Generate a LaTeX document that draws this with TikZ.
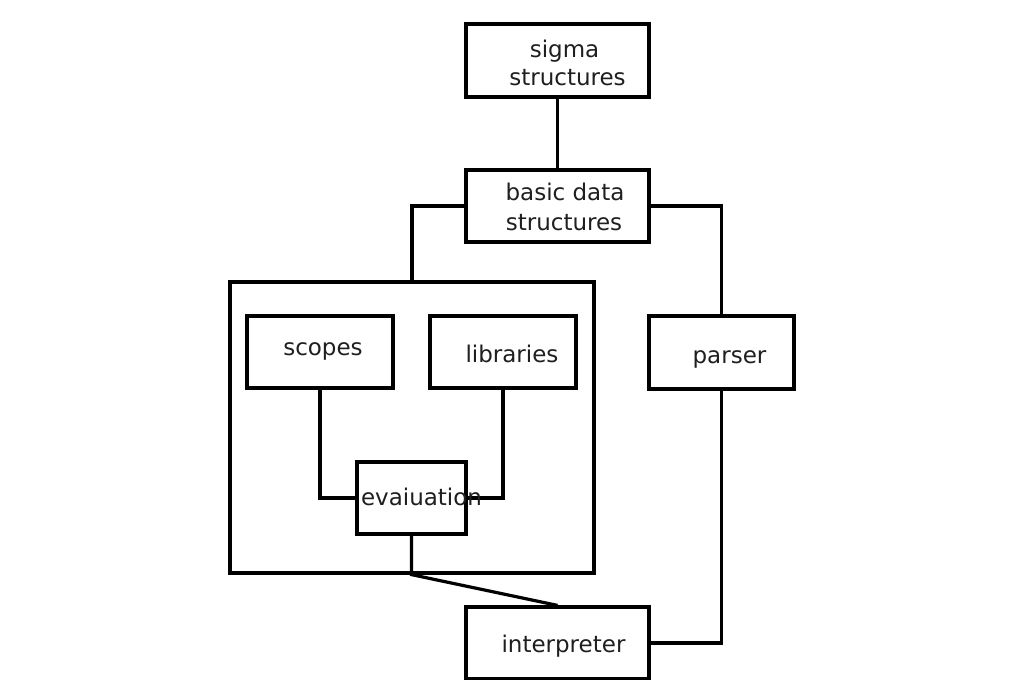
\documentclass[tikz,border=0pt]{standalone}
\usepackage{fontspec}
\setmainfont{DejaVu Sans}
\begin{document}
\begin{tikzpicture}[x=1pt,y=-1pt,
  box/.style={draw=black,line width=3.2pt,fill=white,inner sep=0pt,rectangle},
  conn/.style={draw=black,line width=3.2pt},
  lbl/.style={anchor=base,inner sep=0pt,text=black!88,font=\fontsize{23}{27}\selectfont}]
\useasboundingbox (0,0) rectangle (1020,680);
\fill[white] (0,0) rectangle (1020,680);
% containers and boxes
\node[box,minimum width=364pt,minimum height=291pt] (cont) at (412,427.5) {};
\node[box,minimum width=183pt,minimum height=73pt] (sigma) at (557.5,60.5) {};
\node[box,minimum width=183pt,minimum height=72pt] (basic) at (557.5,206) {};
\node[box,minimum width=146pt,minimum height=72pt] (scopes) at (320,352) {};
\node[box,minimum width=146pt,minimum height=72pt] (libs) at (503,352) {};
\node[box,minimum width=145pt,minimum height=73pt] (parser) at (721.5,352.5) {};
\node[box,minimum width=109pt,minimum height=72pt] (eval) at (411.5,498) {};
\node[box,minimum width=183pt,minimum height=72pt] (interp) at (557.5,643) {};
\coordinate (evbot) at (eval.south |- cont.south);
% connectors
\draw[conn] (sigma.south) -- (basic.north);
\draw[conn] (basic.west) -| (cont.north);
\draw[conn] (basic.east) -| (parser.north);
\draw[conn] (scopes.south) |- (eval.west);
\draw[conn] (libs.south) |- (eval.east);
\draw[conn] (eval.south) -- (evbot) -- (interp.north);
\draw[conn] (parser.south) |- (interp.east);
% labels
\node[lbl] (t1) at (564.5,57) {sigma};
\node[lbl] (t2) at (567.5,85) {structures};
\node[lbl] (t3) at (565,200) {basic data};
\node[lbl] (t4) at (564,230) {structures};
\node[lbl] (t5) at (323,355) {scopes};
\node[lbl] (t6) at (512,362) {libraries};
\node[lbl] (t7) at (729.5,363) {parser};
\node[lbl] (t8) at (421.5,505) {evaiuation};
\node[lbl] (t9) at (563.5,652) {interpreter};
\end{tikzpicture}
\end{document}
